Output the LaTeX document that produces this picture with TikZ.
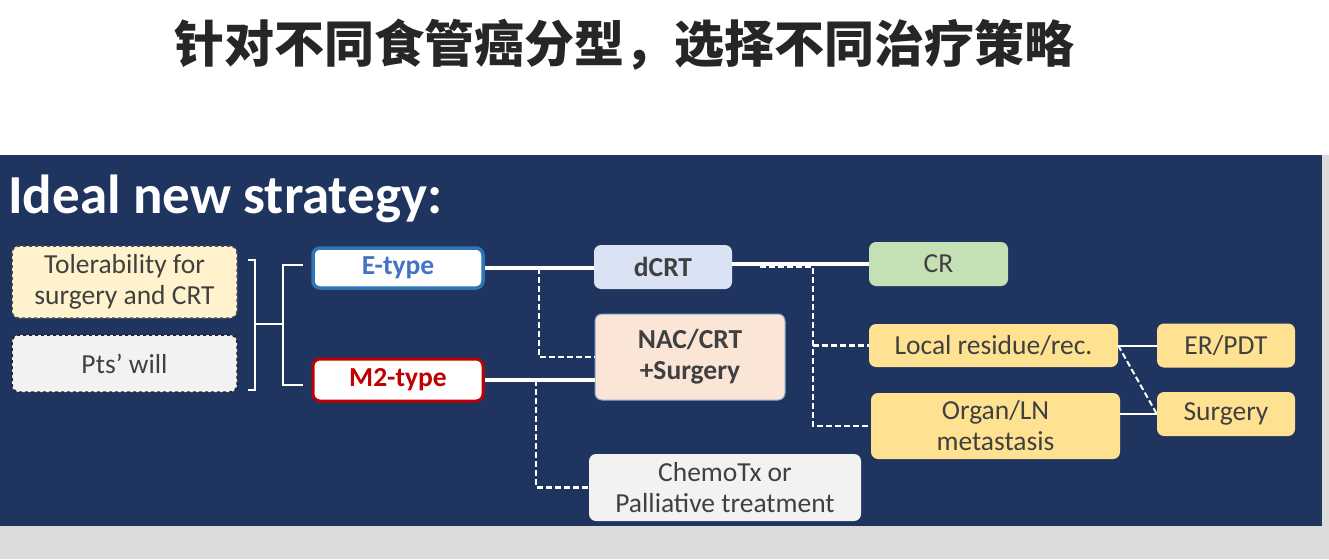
\documentclass[tikz,border=0pt]{standalone}
\usepackage{fontspec}
\setmainfont{Carlito}
\newfontfamily\cjk{Noto Sans CJK SC}
\definecolor{cnavy}{RGB}{31,52,94}
\definecolor{cgray}{RGB}{64,64,64}
\definecolor{cyellow}{RGB}{255,242,204}
\definecolor{clight}{RGB}{242,242,242}
\definecolor{cblue}{RGB}{46,117,182}
\definecolor{ctblue}{RGB}{68,114,196}
\definecolor{cred}{RGB}{192,0,0}
\definecolor{cpblue}{RGB}{218,227,243}
\definecolor{cpeach}{RGB}{251,229,214}
\definecolor{cgreen}{RGB}{197,224,180}
\definecolor{cgold}{RGB}{255,226,145}
\newcommand\boxfont{\fontsize{27.5}{31}\selectfont}
\tikzset{strat/.style={x=1pt,y=-1pt,font=\boxfont},
  optbox/.style={rounded corners=7pt,align=center,inner sep=0pt,text=cgray},
  boldbox/.style={optbox,font=\boxfont\bfseries},
  solidlink/.style={white,line width=3.5pt},
  dashlink/.style={white,line width=2.5pt,dash pattern=on 6pt off 3pt},
  thinlink/.style={white,line width=2pt}}

\begin{document}
\begin{tikzpicture}[strat]
    \useasboundingbox (0,0) rectangle (1329,559);
    \fill[white]        (0,0) rectangle (1329,155);
    \fill[black!14]     (0,526) rectangle (1329,559);
    \fill[black!14]     (1322,155) rectangle (1329,526);
    \fill[cnavy]        (0,155) rectangle (1322,526);
    \node[text=black!85,font=\cjk\bfseries\fontsize{50}{50}\selectfont] (title) at (624,45) {针对不同食管癌分型，选择不同治疗策略};
    \node[white,anchor=base west,inner sep=0pt,font=\bfseries\fontsize{55}{55}\selectfont] (ideal) at (8,213) {Ideal new strategy:};
    % criteria
    \node[optbox,fill=cyellow,draw=black!70,dashed,line width=1.5pt,minimum width=225,minimum height=72] (toler) at (124.5,282) {Tolerability for\\surgery and CRT};
    \node[optbox,fill=clight,draw=black!85,dashed,line width=1.5pt,minimum width=225,minimum height=57] (will) at (124.5,363.5) {Pts' will};
    % types
    \node[boldbox,fill=white,draw=cblue,line width=3.5pt,text=ctblue,minimum width=170,minimum height=40] (etype) at (398,268) {E-type};
    \node[boldbox,fill=white,draw=cred,line width=3pt,text=cred,minimum width=170,minimum height=42] (m2type) at (398,380) {M2-type};
    % treatments
    \node[boldbox,fill=cpblue,minimum width=138,minimum height=44] (dcrt) at (663,267) {dCRT};
    \node[boldbox,fill=cpeach,draw=cblue!60,line width=1pt,minimum width=190,minimum height=86] (nac) at (690,357) {NAC/CRT\\+Surgery};
    \node[optbox,fill=clight,minimum width=272,minimum height=67] (chemo) at (725,487.5) {ChemoTx or\\Palliative treatment};
    % outcomes
    \node[optbox,fill=cgreen,minimum width=139,minimum height=44] (cr) at (938.5,264) {CR};
    \node[optbox,fill=cgold,minimum width=249,minimum height=43] (local) at (993.5,345.5) {Local residue/rec.};
    \node[optbox,fill=cgold,minimum width=249,minimum height=66] (organ) at (995.5,426) {Organ/LN\\metastasis};
    \node[optbox,fill=cgold,minimum width=138,minimum height=44] (erpdt) at (1226,345.5) {ER/PDT};
    \node[optbox,fill=cgold,minimum width=138,minimum height=44] (surg) at (1226,414) {Surgery};
    % brackets
    \draw[thinlink] (248,260) -- (255,260) -- (255,390) -- (248,390);
    \draw[thinlink] (255,324) -- (283,324);
    \draw[thinlink] (303,265) -- (283,265) -- (283,385) -- (303,385);
    % links
    \coordinate (ej) at (539,268);
    \coordinate (mj) at (536,380);
    \coordinate (dj) at (813,267);
    \draw[solidlink] (etype.east) -- (dcrt.west |- etype.east);
    \draw[solidlink] (m2type.east) -- (m2type.east -| nac.west);
    \draw[dashlink] (ej) |- (nac.west);
    \draw[dashlink] (mj) |- (chemo.west);
    \draw[solidlink] (dcrt.east |- cr.west) -- (cr.west);
    \draw[dashlink] (760,267) -- (dj) |- (organ.west);
    \draw[dashlink] (dj |- local.west) -- (local.west);
    \draw[thinlink] (local.east) -- (erpdt.west);
    \draw[thinlink] (surg.west -| organ.east) -- (surg.west);
    \draw[dashlink,line width=2pt] (local.east) -- (surg.west);
\end{tikzpicture}
\end{document}
